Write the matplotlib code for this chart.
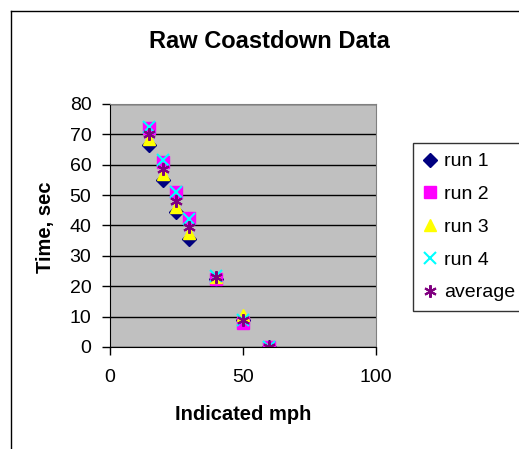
import matplotlib
matplotlib.use('Agg')
import matplotlib.pyplot as plt
from matplotlib.lines import Line2D

# Coastdown runs: time (sec) at each indicated speed (mph)
mph = [15, 20, 25, 30, 40, 50, 60]
run1 = [66.5, 55, 44.5, 35.5, 22.5, 9, 0]
run2 = [72, 61, 51, 42.5, 22.5, 8, 0]
run3 = [68.5, 57, 46, 37.5, 23, 10.5, 0]
run4 = [72.5, 61.5, 51, 42, 23.5, 9, 0]
average = [70, 58.5, 48, 39.5, 23, 9, 0]

plt.rcParams['font.family'] = ['Liberation Sans', 'DejaVu Sans']

fig = plt.figure(figsize=(5.19, 4.49), dpi=100)
ax = fig.add_axes([0.211, 0.2272, 0.5135, 0.5412])
ax.set_facecolor('#C0C0C0')

ax.plot(mph, run1, linestyle='none', marker='D', ms=7, color='#000080', label='run 1')
ax.plot(mph, run2, linestyle='none', marker='s', ms=8, color='#FF00FF', label='run 2')
ax.plot(mph, run3, linestyle='none', marker='^', ms=9, color='#FFFF00', label='run 3')
ax.plot(mph, run4, linestyle='none', marker='x', ms=8, mew=1.5, color='#00FFFF', label='run 4')
ax.plot(mph, average, linestyle='none', marker=(6, 2, 0), ms=9, mew=1.5, color='#800080', label='average')

ax.set_xlim(0, 100)
ax.set_ylim(0, 80)
ax.set_xticks([0, 50, 100])
ax.set_yticks(range(0, 81, 10))
ax.yaxis.grid(True, color='black', linewidth=1)
ax.set_axisbelow(True)
for side in ['top', 'right']:
    ax.spines[side].set_color('#808080')
for side in ['left', 'bottom']:
    ax.spines[side].set_color('black')
ax.tick_params(axis='both', direction='out', length=6, width=1, labelsize=14, color='black')
ax.tick_params(axis='x', pad=10)
ax.tick_params(axis='y', pad=7)

ax.set_xlabel('Indicated mph', fontsize=14.5, fontweight='bold', va='center')
ax.set_ylabel('Time, sec', fontsize=14.5, fontweight='bold', va='center')
ax.xaxis.set_label_coords(243 / 519, 1 - 414 / 449, transform=fig.transFigure)
ax.yaxis.set_label_coords(45 / 519, 1 - 227 / 449, transform=fig.transFigure)
fig.text(269 / 519, 1 - 41 / 449, 'Raw Coastdown Data', ha='center', va='center',
         fontsize=17, fontweight='bold')

leg = ax.legend(loc='upper left', bbox_to_anchor=(413 / 519, 1 - 143 / 449),
                bbox_transform=fig.transFigure, borderaxespad=0, fontsize=14,
                frameon=True, fancybox=False, labelspacing=0.78, handlelength=0.7,
                handletextpad=0.4, borderpad=0.5)
leg.get_frame().set_edgecolor('black')
leg.get_frame().set_linewidth(1)

# chart area border, running off the right and bottom edges
fig.add_artist(Line2D([10.5 / 519, 10.5 / 519], [0, 1 - 10.5 / 449], color='black', lw=1,
                      transform=fig.transFigure))
fig.add_artist(Line2D([10.5 / 519, 1], [1 - 10.5 / 449, 1 - 10.5 / 449], color='black', lw=1,
                      transform=fig.transFigure))

fig.savefig('out.png', dpi=100)
